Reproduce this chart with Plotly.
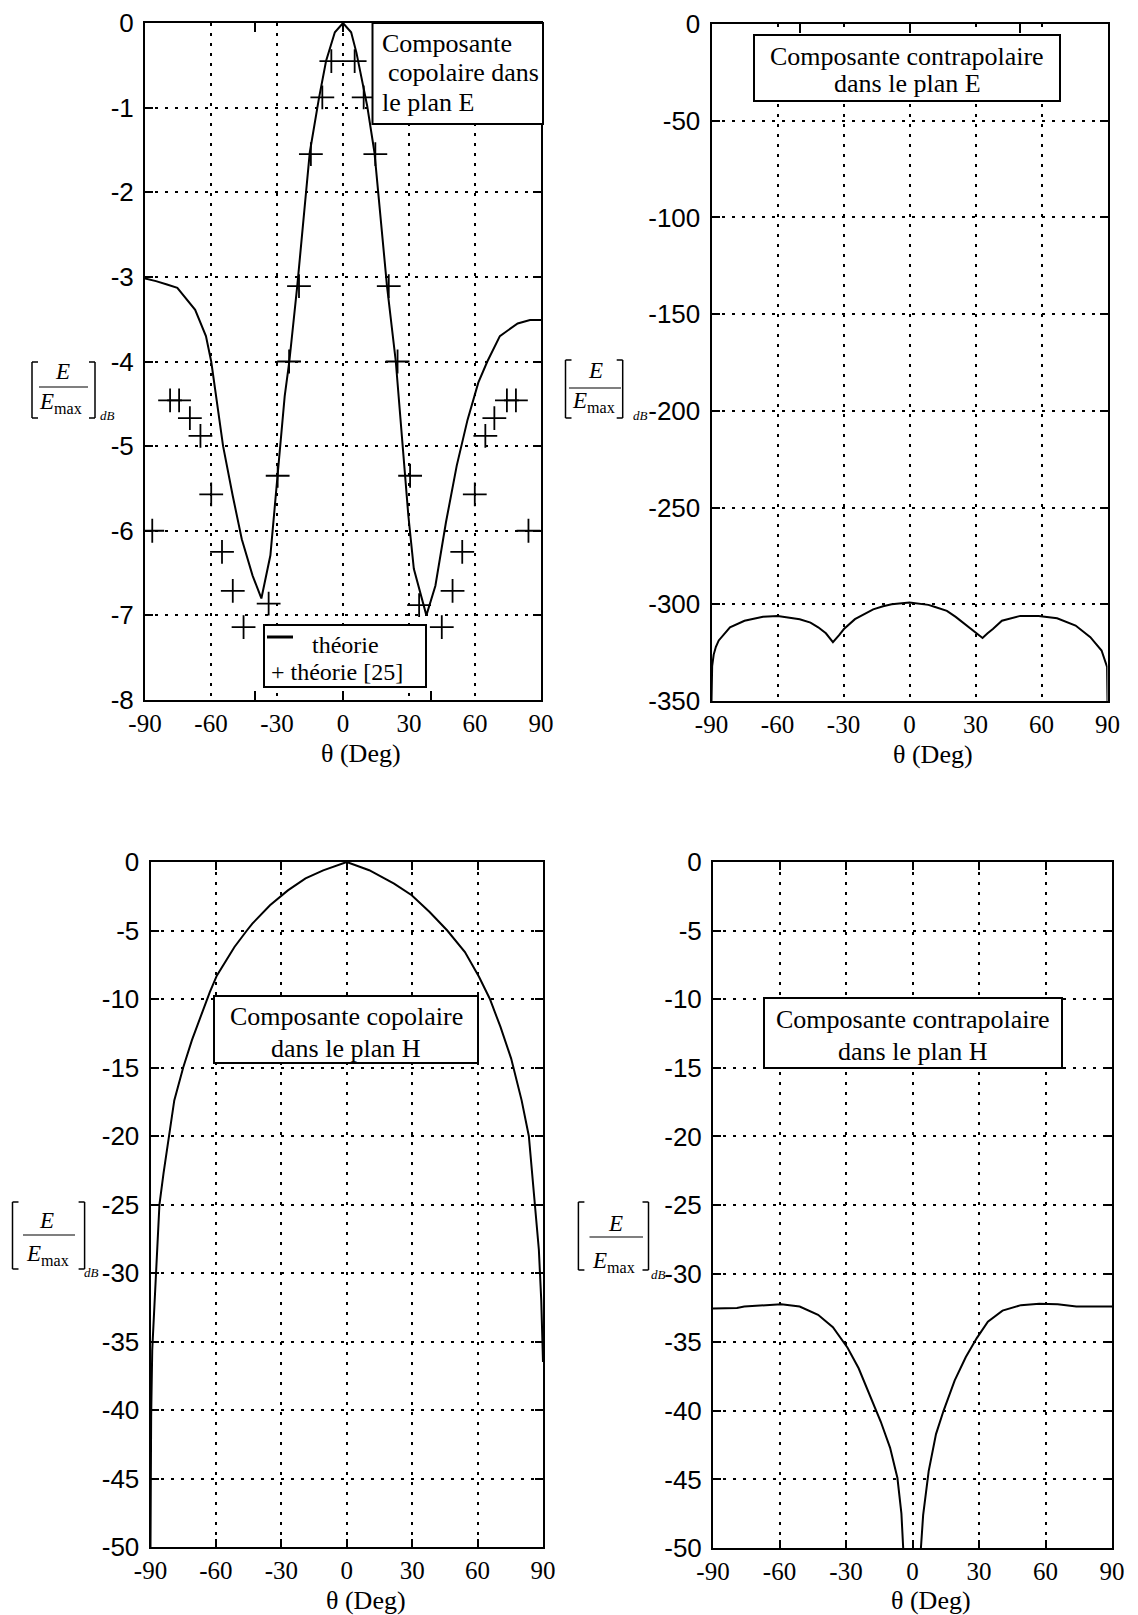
import plotly.graph_objects as go

# ---------------- data ----------------
x_ticks = [-90, -60, -30, 0, 30, 60, 90]

# Top-left: copolar E-plane (theory curve)
theta_copol_E = [-90, -85, -80, -75.3, -67.2, -62.3, -59.9, -57.4, -54.5, -50.1, -46.0, -41.1, -37.1,
                 -33.0, -29.7, -26.5, -24.4, -20.8, -15.1, -11.0, -7.7, -3.7, 0,
                 3.7, 6.1, 11.0, 14.3, 20.0, 24.0, 27.3, 29.7, 32.2, 37.9, 42.0, 46.8, 51.7, 56.6,
                 61.5, 65.6, 71.3, 79.4, 85, 90]
copol_E_db = [-3.02, -3.05, -3.09, -3.13, -3.39, -3.70, -4.0, -4.49, -5.0, -5.59, -6.10, -6.53, -6.80,
              -6.29, -5.35, -4.41, -4.0, -3.11, -1.53, -0.90, -0.45, -0.11, 0.0,
              -0.11, -0.35, -0.98, -1.53, -3.11, -4.0, -5.0, -5.82, -6.45, -7.0, -6.65, -5.90, -5.23, -4.69,
              -4.25, -4.0, -3.70, -3.55, -3.51, -3.51]

# Top-left: "théorie [25]" crosses
theta_ref25 = [-86.7, -78.6, -74.5, -69.6, -64.8, -59.9, -55.0, -50.1, -45.2, -33.8, -29.7, -24.5,
               -20.0, -14.6, -9.4, -5.3, 5.3, 9.4, 14.7, 20.8, 24.8, 30.5, 34.6, 44.9, 49.8, 54.2,
               59.9, 64.7, 68.8, 74.5, 78.6, 84.3]
ref25_db = [-6.0, -4.46, -4.46, -4.67, -4.88, -5.57, -6.25, -6.71, -7.14, -6.86, -5.35, -4.0,
            -3.11, -1.55, -0.88, -0.45, -0.45, -0.88, -1.55, -3.11, -4.0, -5.35, -6.88, -7.14, -6.71, -6.25,
            -5.57, -4.88, -4.67, -4.46, -4.46, -6.0]

# Top-right: cross-polar E-plane
theta_xpol_E = [-90, -89.7, -89, -88, -86.7, -81.6, -75, -66.6, -59.9, -49.9, -45, -41.5, -38, -34.8,
                -32, -29.8, -24.8, -20, -16.5, -12, -8.1, 0, 8.6, 12, 17, 21, 25.3, 29, 33.2, 35.5, 37.9,
                42, 50.4, 58.7, 67.1, 75.5, 82.2, 87.3, 89.8, 90]
xpol_E_db = [-350, -332, -326, -322, -318.7, -311.9, -308.5, -306.5, -306, -307.7, -309.5, -311.9, -315,
             -319.6, -316, -312.8, -307.7, -304.5, -302.6, -301, -300, -299.1, -300.3, -301.5, -303.4,
             -306.5, -310.2, -313.5, -317.4, -315, -312.8, -308.5, -306, -306, -307.2, -311, -317,
             -323.9, -332.4, -350]

# Bottom-left: copolar H-plane
theta_copol_H = [-90, -89.7, -89.2, -88, -86.7, -85.9, -84, -81.5, -79.1, -75, -71, -66.1, -62.8, -59.6,
                 -51.5, -45.8, -43.3, -35.2, -27, -18.9, -10.8, 0, 10.3, 21.7, 29.8, 38, 46.1, 54.2,
                 60.7, 65.6, 70.5, 75.4, 80.2, 83.5, 85.0, 86.4, 88.1, 89.2, 90]
copol_H_db = [-50, -40.5, -35.6, -32, -28.3, -25, -22.7, -20, -17.4, -15, -13, -10.9, -9.5, -8.3,
              -6.2, -5.0, -4.5, -3.16, -2.07, -1.2, -0.61, 0, -0.6, -1.58, -2.43, -3.65, -5.0, -6.57,
              -8.4, -9.98, -12.04, -14.35, -17.4, -20, -22.7, -25, -28.3, -32, -36.5]

# Bottom-right: cross-polar H-plane
theta_xpol_H = [-90, -79.2, -75.9, -67.5, -59.2, -50.9, -42.6, -35.9, -29.3, -24.3, -19.3, -14.3, -10.1,
                -6.8, -5.0, -4.2, 0, 3.8, 4.8, 7.3, 10.6, 14, 19, 24, 29, 34, 40.6, 48.9, 57.2, 65.5,
                73.9, 78.9, 90]
xpol_H_db = [-32.55, -32.5, -32.4, -32.3, -32.24, -32.4, -33.0, -33.9, -35.4, -36.9, -38.8, -40.8, -42.7,
             -44.9, -47.5, -50, -80, -50, -47.6, -44.4, -41.7, -40, -37.8, -36.1, -34.7, -33.5, -32.7,
             -32.3, -32.2, -32.24, -32.4, -32.4, -32.4]

y_ticks_TL = [0, -1, -2, -3, -4, -5, -6, -7, -8]
y_ticks_TR = [0, -50, -100, -150, -200, -250, -300, -350]
y_ticks_H = [0, -5, -10, -15, -20, -25, -30, -35, -40, -45, -50]

# ---------------- layout helpers ----------------
# The page body keeps an 8px margin, so the figure is 8px smaller and all page
# coordinates below are shifted by that offset.
OFF = 8
W, H = 1138 - OFF, 1615 - OFF


def px(x):
    return (x - OFF) / W


def py(y):
    return 1 - (y - OFF) / H


SERIF = "Liberation Serif"
SANS = "Liberation Sans"
GRIDDASH = "3px,7px"


def xaxis(x0, x1, inside_ticks):
    d = dict(domain=[px(x0), px(x1)], range=[-90, 90], tickmode="array", tickvals=x_ticks,
             ticktext=[str(v) for v in x_ticks], automargin=False, ticklabeloverflow="allow",
             showgrid=True, gridcolor="black", griddash=GRIDDASH, gridwidth=1.6,
             showline=True, linecolor="black", linewidth=2, zeroline=False,
             tickfont=dict(family=SERIF, size=25, color="black"), ticklabelstandoff=0)
    if inside_ticks:
        d.update(ticks="inside", ticklen=8, tickwidth=2, tickcolor="black", mirror="ticks")
    else:
        d.update(ticks="", mirror=True)
    return d


def yaxis(y_top, y_bot, rng, tv):
    return dict(domain=[py(y_bot), py(y_top)], range=rng, tickmode="array", tickvals=tv,
                ticktext=[str(v) for v in tv], automargin=False, ticklabeloverflow="allow",
                showgrid=True, gridcolor="black", griddash=GRIDDASH, gridwidth=1.6,
                showline=True, linecolor="black", linewidth=2, mirror="ticks", zeroline=False,
                ticks="inside", ticklen=8, tickwidth=2, tickcolor="black",
                tickfont=dict(family=SANS, size=26, color="black"), ticklabelstandoff=4)


fig = go.Figure()
line = dict(color="black", width=2)
fig.add_trace(go.Scatter(x=theta_copol_E, y=copol_E_db, mode="lines", line=line, xaxis="x", yaxis="y"))
fig.add_trace(go.Scatter(x=theta_ref25, y=ref25_db, mode="markers", xaxis="x", yaxis="y",
                         marker=dict(symbol="cross-thin-open", size=17, color="black",
                                     line=dict(color="black", width=1.8))))
fig.add_trace(go.Scatter(x=theta_xpol_E, y=xpol_E_db, mode="lines", line=line, xaxis="x2", yaxis="y2"))
fig.add_trace(go.Scatter(x=theta_copol_H, y=copol_H_db, mode="lines", line=line, xaxis="x3", yaxis="y3"))
fig.add_trace(go.Scatter(x=theta_xpol_H, y=xpol_H_db, mode="lines", line=line, xaxis="x4", yaxis="y4"))
# empty traces to activate the extra tick-only axes
fig.add_trace(go.Scatter(x=[], y=[], xaxis="x5", yaxis="y", hoverinfo="skip"))
fig.add_trace(go.Scatter(x=[], y=[], xaxis="x6", yaxis="y2", hoverinfo="skip"))

fig.update_layout(
    width=W, height=H, margin=dict(l=0, r=0, t=0, b=0, pad=0), autosize=False,
    plot_bgcolor="white", paper_bgcolor="white", showlegend=False,
    xaxis=dict(xaxis(145, 541, False), anchor="y"),
    yaxis=dict(yaxis(23, 700, [-8, 0], y_ticks_TL), anchor="x"),
    xaxis2=dict(xaxis(711.5, 1107.5, False), anchor="y2"),
    yaxis2=dict(yaxis(24, 701, [-350, 0], y_ticks_TR), anchor="x2"),
    xaxis3=dict(xaxis(150.5, 543, True), anchor="y3"),
    yaxis3=dict(yaxis(862, 1547, [-50, 0], y_ticks_H), anchor="x3"),
    xaxis4=dict(xaxis(713, 1112, True), anchor="y4"),
    yaxis4=dict(yaxis(862, 1548, [-50, 0], y_ticks_H), anchor="x4"),
    xaxis5=dict(overlaying="x", anchor="y", range=[-90, 90], tickmode="array", tickvals=[-40, 0, 40],
                ticks="inside", ticklen=9, tickwidth=2, tickcolor="black", showticklabels=False,
                showgrid=False, zeroline=False, showline=True, linecolor="black", linewidth=2,
                mirror="ticks", automargin=False),
    xaxis6=dict(overlaying="x2", anchor="y2", side="top", range=[-90, 90], tickmode="array",
                tickvals=[-50, 0, 50], ticks="inside", ticklen=9, tickwidth=2, tickcolor="black",
                showticklabels=False, showgrid=False, zeroline=False, showline=True,
                linecolor="black", linewidth=2, automargin=False),
)

shapes = []
annotations = []


def text(x, y, s, size=26, family=SERIF, xanchor="center"):
    annotations.append(dict(x=px(x), y=py(y), xref="paper", yref="paper", text=s, showarrow=False,
                            xanchor=xanchor, yanchor="middle",
                            font=dict(family=family, size=size, color="black")))


def box(x0, y0, x1, y1):
    shapes.append(dict(type="rect", xref="paper", yref="paper", x0=px(x0), x1=px(x1),
                       y0=py(y1), y1=py(y0), fillcolor="white", line=dict(color="black", width=2),
                       layer="above"))


def seg(x0, y0, x1, y1, w=1.5):
    shapes.append(dict(type="line", xref="paper", yref="paper", x0=px(x0), x1=px(x1),
                       y0=py(y0), y1=py(y1), line=dict(color="black", width=w), layer="above"))


def ylabel(xl, xr, yt, yb, ex, ey, bx0, bx1, by, emx, emy, dbx, dby):
    s = 6
    seg(xl, yt, xl, yb); seg(xl, yt, xl + s, yt); seg(xl, yb, xl + s, yb)
    seg(xr, yt, xr, yb); seg(xr, yt, xr - s, yt); seg(xr, yb, xr - s, yb)
    seg(bx0, by, bx1, by, 1.2)
    text(ex, ey, "<i>E</i>", size=23)
    text(emx, emy, "<i>E</i><sub>max</sub>", size=23)
    text(dbx, dby, "<i>dB</i>", size=13)


# text boxes
box(372.5, 23, 543, 124)
text(380, 43, "Composante", xanchor="left")
text(386, 72, "copolaire dans", xanchor="left")
text(380, 103, "le plan E", xanchor="left")

box(754, 35, 1060, 101)
text(907, 56, "Composante contrapolaire")
text(907, 84, "dans le plan E")

box(214, 996, 478, 1063)
text(346, 1017, "Composante copolaire")
text(346, 1048, "dans le plan H")

box(764, 998, 1062, 1068)
text(913, 1020, "Composante contrapolaire")
text(913, 1051, "dans le plan H")

# legend (top-left)
box(264, 625, 426, 687)
seg(267, 637, 293, 637, 3)
text(345, 645, "théorie", size=24)
text(337, 672, "+ théorie [25]", size=24)

# y-axis labels
ylabel(32, 95, 362, 418, 62, 372, 39, 88, 387, 60, 403, 107, 415)
ylabel(565.5, 622.7, 360, 418, 595, 370, 569, 621, 388, 593, 402, 640, 415)
ylabel(12.5, 84.6, 1202, 1269, 46, 1220, 23, 75, 1235, 47, 1255, 91, 1272)
ylabel(578.4, 648.5, 1202, 1270, 615, 1223, 589.5, 643, 1237, 613, 1262, 658, 1274)

# x-axis titles
text(361, 753, "θ (Deg)")
text(933, 755, "θ (Deg)")
text(366, 1600, "θ (Deg)")
text(931, 1600, "θ (Deg)")

fig.update_layout(shapes=shapes, annotations=annotations)
fig.write_html("out.html")
